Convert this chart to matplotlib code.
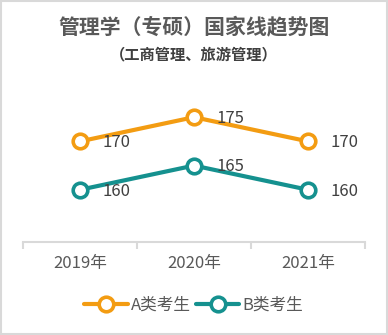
import matplotlib
matplotlib.use("Agg")
import matplotlib.pyplot as plt
from matplotlib.patches import Rectangle

plt.rcParams['font.family'] = ['Noto Sans CJK SC', 'DejaVu Sans']

# 数据
years = ["2019年", "2020年", "2021年"]
score_a = [170, 175, 170]
score_b = [160, 165, 160]
series_names = ["A类考生", "B类考生"]
colors = ["#F39C12", "#15918F"]

fig = plt.figure(figsize=(3.88, 3.35), dpi=100)
ax = fig.add_axes([0.0593, 0.2776, 0.8814, 0.4448])

x = list(range(len(years)))
for vals, name, c in zip([score_a, score_b], series_names, colors):
    ax.plot(x, vals, color=c, lw=3, marker="o", ms=10.5, mfc="white",
            mec=c, mew=2.6, label=name, solid_capstyle="round")
    for xi, v in zip(x, vals):
        ax.annotate(str(v), (xi, v), xytext=(16, -1), textcoords="offset points",
                    ha="left", va="center", fontsize=12, color="#404040")

ax.set_xlim(-0.5, 2.5)
ax.set_ylim(149.2, 180)
ax.set_yticks([])
ax.set_xticks(x)
ax.set_xticklabels(years, fontsize=12, color="#595959")
ax.tick_params(axis="x", which="major", length=0, pad=9)
ax.set_xticks([-0.5, 0.5, 1.5, 2.5], minor=True)
ax.tick_params(axis="x", which="minor", length=5, width=1.5, color="#D9D9D9")
for s in ["top", "left", "right"]:
    ax.spines[s].set_visible(False)
ax.spines["bottom"].set_color("#D9D9D9")
ax.spines["bottom"].set_linewidth(1.5)

fig.text(0.5, 0.919, "管理学（专硕）国家线趋势图", ha="center", va="center",
         fontsize=15, fontweight="bold", color="#595959")
fig.text(0.5, 0.836, "（工商管理、旅游管理）", ha="center", va="center",
         fontsize=11, fontweight="bold", color="#404040")

fig.legend(loc="center", bbox_to_anchor=(0.5, 0.09), ncol=2, frameon=False,
           fontsize=12, handlelength=2.6, handletextpad=0.2, columnspacing=0.3,
           labelcolor="#595959")

fig.add_artist(Rectangle((0.002, 0.003), 0.995, 0.994, transform=fig.transFigure,
                         fill=False, edgecolor="#D9D9D9", lw=1.5))

fig.savefig("out.png", dpi=100)
